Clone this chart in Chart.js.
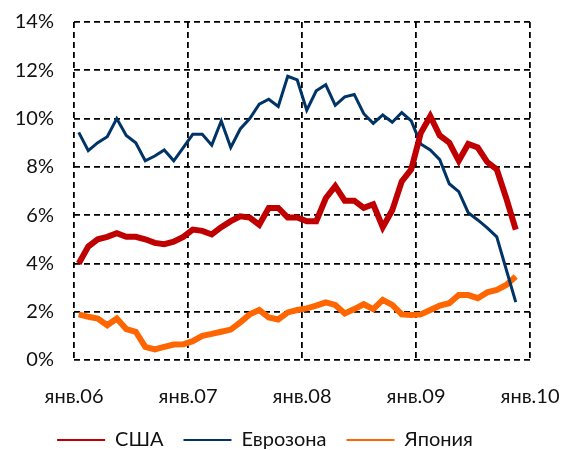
<!DOCTYPE html>
<html>
<head>
<meta charset="utf-8">
<script src="https://cdn.jsdelivr.net/npm/chart.js@4"></script>
<style>
    html, body { margin: 0; padding: 0; background: #fff; }
    #wrap { width: 565px; height: 450px; }
</style>
</head>
<body>
<div id="wrap"><canvas id="inflationChart"></canvas></div>
<script>

/* Data: monthly, янв.06 - ноя.09, % */

const yearLabels = ["янв.06", "янв.07", "янв.08", "янв.09", "янв.10"];

const usa = [
    4.0, 4.7, 5.0, 5.1, 5.25, 5.1, 5.1, 5.0, 4.85, 4.8, 4.9, 5.1,
    5.4, 5.35, 5.2, 5.5, 5.75, 5.95, 5.9, 5.6, 6.3, 6.3, 5.9, 5.9,
    5.75, 5.75, 6.7, 7.2, 6.6, 6.6, 6.3, 6.45, 5.5, 6.2, 7.4, 7.9,
    9.4, 10.1, 9.3, 9.0, 8.25, 8.95, 8.8, 8.2, 7.9, 6.7, 5.4
];

const euro = [
    9.43, 8.67, 9.0, 9.25, 10.0, 9.3, 9.0, 8.25, 8.45, 8.7, 8.25, 8.8,
    9.35, 9.35, 8.9, 9.9, 8.8, 9.57, 10.0, 10.6, 10.8, 10.5, 11.75, 11.6,
    10.35, 11.15, 11.4, 10.55, 10.9, 11.0, 10.2, 9.8, 10.15, 9.85, 10.25, 9.9,
    8.95, 8.7, 8.3, 7.3, 6.97, 6.1, 5.8, 5.47, 5.1, 3.75, 2.4
];

const japan = [
    1.89, 1.79, 1.72, 1.44, 1.72, 1.28, 1.17, 0.54, 0.44, 0.54, 0.64, 0.65,
    0.78, 1.0, 1.08, 1.17, 1.26, 1.56, 1.89, 2.07, 1.76, 1.68, 1.97, 2.07,
    2.14, 2.25, 2.39, 2.28, 1.93, 2.11, 2.31, 2.11, 2.49, 2.28, 1.89, 1.86,
    1.89, 2.07, 2.25, 2.35, 2.69, 2.69, 2.56, 2.8, 2.9, 3.11, 3.46
];

/* month index -> point in the middle of the month */
function toPoints(values) {
    return values.map((v, i) => ({ x: i + 0.5, y: v }));
}

document.addEventListener("DOMContentLoaded", () => {

    const fontFamily = "Lato, 'Open Sans', sans-serif";

    new Chart(document.getElementById("inflationChart"), {
        type: "line",
        data: {
            datasets: [{
                label: "США",
                data: toPoints(usa),
                borderColor: "#c00000",
                borderWidth: 6,
                pointRadius: 0,
                tension: 0
            }, {
                label: "Еврозона",
                data: toPoints(euro),
                borderColor: "#003366",
                borderWidth: 3,
                pointRadius: 0,
                tension: 0
            }, {
                label: "Япония",
                data: toPoints(japan),
                borderColor: "#ff6600",
                borderWidth: 6,
                pointRadius: 0,
                tension: 0
            }]
        },
        options: {
            responsive: true,
            maintainAspectRatio: false,
            animation: false,
            layout: {
                padding: { top: 0, left: 0, right: 35, bottom: 0 }
            },
            scales: {
                x: {
                    type: "linear",
                    min: 0,
                    max: 48,
                    grid: { color: "#000", lineWidth: 1.8, drawTicks: false },
                    border: { display: false, dash: [6, 4] },
                    ticks: {
                        stepSize: 12,
                        padding: 25,
                        color: "#111",
                        font: { family: fontFamily, size: 20 },
                        maxRotation: 0,
                        callback: value => yearLabels[value / 12]
                    },
                    afterFit: scale => {
                        scale.paddingLeft = 0;
                        scale.paddingRight = 13;
                        scale.height = 50;
                    }
                },
                y: {
                    min: 0,
                    max: 14,
                    grid: { color: "#000", lineWidth: 1.8, drawTicks: false },
                    border: { display: false, dash: [6, 4] },
                    ticks: {
                        stepSize: 2,
                        padding: 20,
                        color: "#111",
                        font: { family: fontFamily, size: 20 },
                        callback: value => value + "%"
                    },
                    afterFit: scale => {
                        scale.width = 74;
                        scale.paddingTop = 22;
                        scale.paddingBottom = 0;
                    }
                }
            },
            plugins: {
                tooltip: { enabled: false },
                legend: {
                    position: "bottom",
                    maxHeight: 40,
                    labels: {
                        boxWidth: 48,
                        boxHeight: 2,
                        padding: 20,
                        color: "#111",
                        font: { family: fontFamily, size: 20 },
                        generateLabels: chart => chart.data.datasets.map((ds, i) => ({
                            text: ds.label,
                            fillStyle: ds.borderColor,
                            strokeStyle: ds.borderColor,
                            lineWidth: 0,
                            fontColor: "#111",
                            hidden: false,
                            datasetIndex: i
                        }))
                    }
                }
            }
        }
    });

});
</script>
</body>
</html>
